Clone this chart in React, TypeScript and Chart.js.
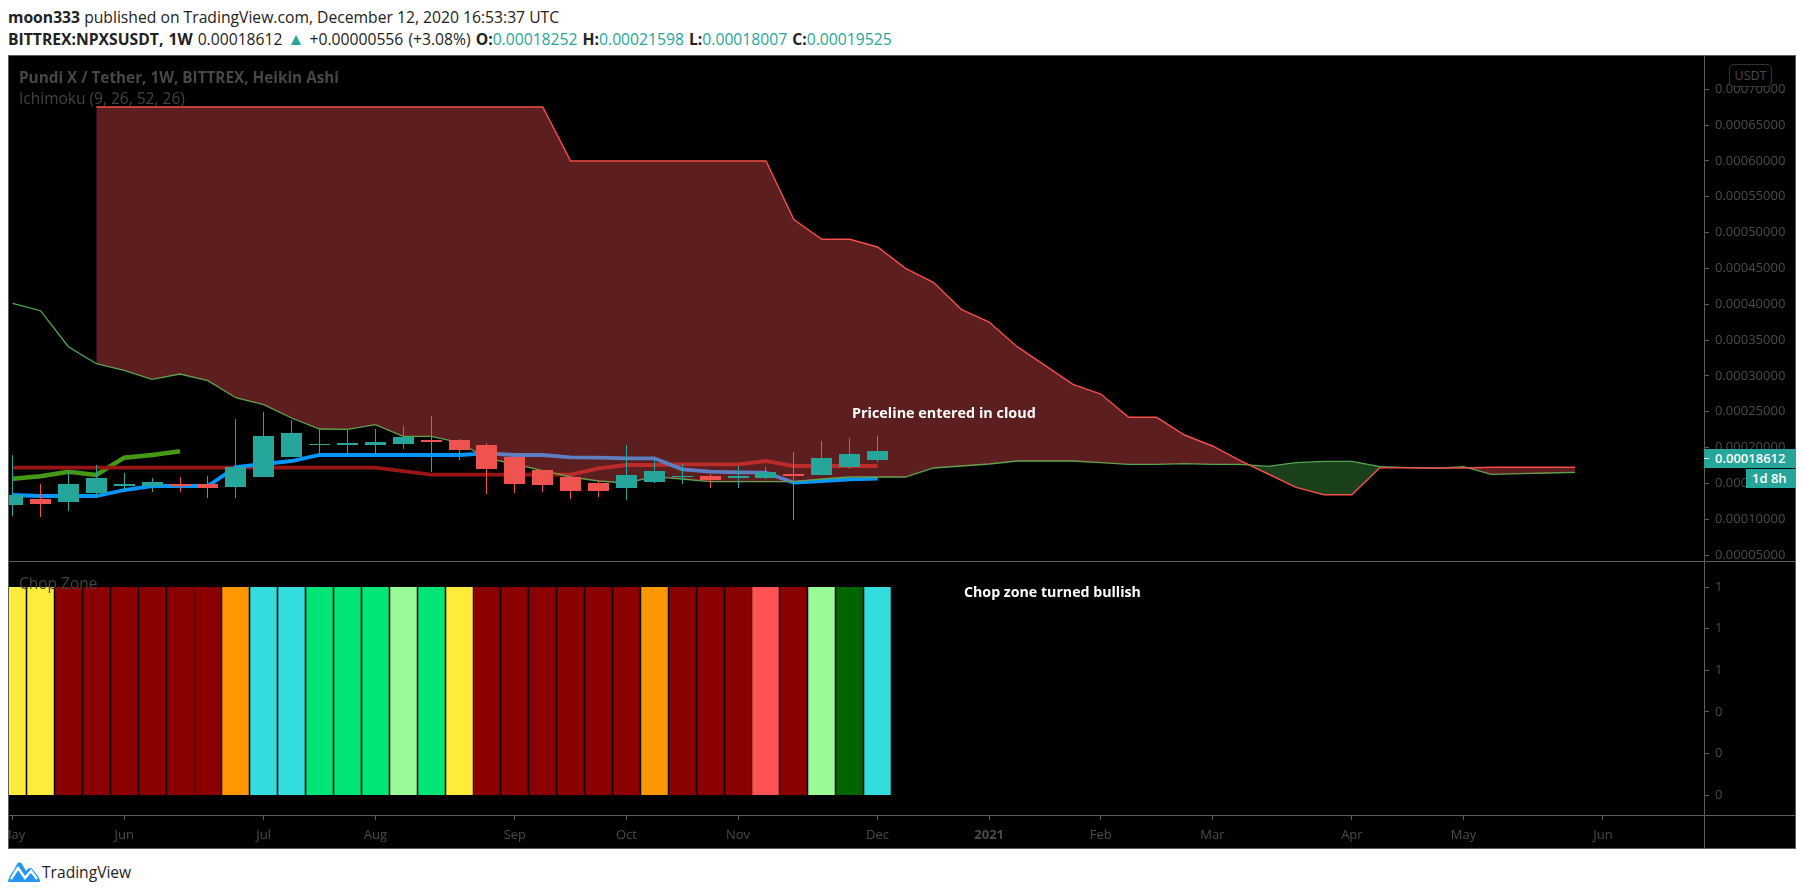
import React, { useEffect, useRef } from "react";
import { Chart, registerables } from "chart.js";

Chart.register(...registerables);

// Heikin Ashi weekly candles
const candleOpen = [0.00011977,0.00012814,0.00012396,0.00013652,0.00014628,0.00014628,0.00014908,0.00014908,0.00014489,0.00015885,0.00018676,0.0002035,0.0002035,0.0002035,0.0002049,0.00021048,0.00021048,0.0002035,0.00018676,0.00016861,0.00015885,0.00015047,0.00014349,0.00015187,0.00015885,0.00016024,0.00015745,0.00015745,0.00016303,0.00016164,0.0001728,0.00018252];
const candleClose = [0.00013373,0.00012117,0.00014908,0.00015745,0.00014908,0.00015187,0.00014628,0.00014349,0.0001728,0.00021606,0.00022025,0.0002049,0.00020629,0.00020769,0.00021467,0.00020769,0.00019652,0.00017001,0.00014908,0.00014768,0.00013931,0.00013931,0.00016164,0.00016722,0.00016024,0.00015466,0.00016024,0.00016582,0.00016024,0.00018536,0.00019094,0.00019525];
const candleHigh = [0.00018955,0.00014908,0.00016768,0.00017559,0.00016443,0.00015745,0.00015885,0.00016024,0.00023979,0.00024955,0.00023839,0.00022583,0.00022583,0.00022583,0.00023002,0.00024397,0.00021187,0.00020629,0.00018676,0.00016861,0.00015885,0.00015466,0.0002035,0.00018257,0.00017699,0.00016303,0.0001742,0.0001728,0.00019373,0.00020908,0.00021327,0.00021598];
const candleLow = [0.00010442,0.00010302,0.0001114,0.00013,0.0001407,0.00013791,0.00013791,0.00012953,0.00012953,0.00015885,0.00018676,0.00019094,0.00018815,0.00018815,0.00019792,0.00016582,0.00018257,0.00013512,0.00013652,0.00013791,0.00012814,0.00013094,0.00012675,0.00015047,0.00014908,0.00014349,0.00014349,0.00015605,0.00009884,0.00016164,0.00017001,0.00018007];

// Ichimoku lines
const conversionLine = [0.00013373,0.00013233,0.00013233,0.00013233,0.0001407,0.00014628,0.00014628,0.00014628,0.0001728,0.00017699,0.00018117,0.00018955,0.00018955,0.00018955,0.00018955,0.00018955,0.00018955,0.00019187,0.00018955,0.00018955,0.00018629,0.00018582,0.0001849,0.0001849,0.00016954,0.00016629,0.00016536,0.00016489,0.00015094,0.00015326,0.00015559,0.00015652];
const baseLine = [0.00017183,0.00017183,0.00017183,0.00017183,0.00017183,0.00017183,0.00017183,0.00017183,0.00017183,0.00017183,0.00017183,0.00017183,0.00017183,0.00017183,0.00016694,0.00016205,0.00016205,0.00016205,0.00016205,0.00016205,0.00016205,0.00017099,0.00017559,0.00017559,0.00017657,0.00017657,0.00017657,0.00018117,0.0001742,0.0001742,0.0001742,0.0001742];
const laggingSpan = [0.00015652,0.00015978,0.00016629,0.00016164,0.00018582,0.00018955,0.00019466];
const leadingSpanA = [0.00040125,0.00039092,0.00034068,0.00031696,0.00030775,0.00029519,0.00030258,0.00029323,0.00026951,0.00025974,0.00024118,0.00022583,0.00022541,0.00023183,0.00021564,0.00021564,0.00020727,0.00018494,0.00017699,0.00016764,0.00015885,0.00015326,0.00015047,0.00015926,0.00015606,0.00015229,0.00015229,0.00015229,0.00015229,0.00015606,0.00015885,0.00015885,0.00015885,0.00017141,0.0001742,0.00017699,0.00018117,0.00018117,0.00018117,0.0001788,0.00017657,0.00017657,0.0001774,0.00017657,0.00017657,0.00017377,0.0001788,0.00018075,0.00018075,0.00017322,0.00017183,0.00017099,0.00017322,0.00016261,0.00016345,0.00016443,0.00016541];
const leadingSpanB = [null,null,null,0.00067518,0.00067518,0.00067518,0.00067518,0.00067518,0.00067518,0.00067518,0.00067518,0.00067518,0.00067518,0.00067518,0.00067518,0.00067518,0.00067518,0.00067518,0.00067518,0.00067518,0.00059982,0.00059982,0.00059982,0.00059982,0.00059982,0.00059982,0.00059982,0.00059982,0.00051819,0.00049056,0.00049056,0.00047981,0.00045009,0.00043055,0.00039287,0.00037515,0.00034068,0.00031472,0.00028821,0.00027467,0.00024216,0.00024216,0.00021746,0.00020211,0.00018159,0.00016303,0.00014447,0.00013415,0.00013415,0.00017183,0.00017183,0.00017141,0.00017141,0.00017238,0.00017238,0.00017238,0.00017238];

// Chop Zone
const chopZones = ["yellow","yellow","darkRed","darkRed","darkRed","darkRed","darkRed","darkRed","orange","cyan","cyan","lime","lime","lime","paleGreen","lime","yellow","darkRed","darkRed","darkRed","darkRed","darkRed","darkRed","orange","darkRed","darkRed","darkRed","red","darkRed","paleGreen","darkGreen","cyan"];
const chopValues = chopZones.map(() => 1);
const chopColors: Record<string, string> = { yellow: "#ffeb3b", darkRed: "#8b0000", orange: "#ff9800", cyan: "#34dddd", lime: "#00e676", paleGreen: "#98fb98", red: "#ff5252", darkGreen: "#006400" };

// Axes
const priceTicks = [0.00005,0.0001,0.00015,0.0002,0.00025,0.0003,0.00035,0.0004,0.00045,0.0005,0.00055,0.0006,0.00065,0.0007];
const chopTicks = [0,0.2,0.4,0.6,0.8,1];
const timeTickIndex = [0,4,9,13,18,22,26,31,35,39,43,48,52,57];
const timeTickLabels = ["May","Jun","Jul","Aug","Sep","Oct","Nov","Dec","2021","Feb","Mar","Apr","May","Jun"];

const FONT = "'Open Sans', sans-serif";
const UP = "#26a69a";
const DOWN = "#ef5350";
const AXIS = "#5e5e5e";
const DIM = "#4b4b4b";
const X_MIN = -0.165;
const X_MAX = 60.62;

const series = (values: (number | null)[]) => values.map((y, x) => ({ x, y }));

const snapBars = {
  id: "snapBars",
  afterDatasetUpdate(chart: any, args: any) {
    const meta = args.meta;
    if (meta.type !== "bar") return;
    meta.data.forEach((el: any) => {
      el.x = Math.floor(el.x) + 0.5;
      const top = Math.round(el.y);
      let base = Math.round(el.base);
      if (base === top) base = top + 1;
      el.y = top;
      el.base = base;
      el.height = Math.abs(base - top);
    });
  },
};

const hideScalePadding = (scale: any) => {
  scale.paddingLeft = 0;
  scale.paddingRight = 0;
  scale.paddingTop = 0;
  scale.paddingBottom = 0;
};

export default function App() {
  const priceRef = useRef<HTMLCanvasElement>(null);
  const chopRef = useRef<HTMLCanvasElement>(null);

  useEffect(() => {
    const colors = candleOpen.map((o, i) => (candleClose[i] >= o ? UP : DOWN));
    const lineBase = { type: "line", pointRadius: 0, tension: 0, fill: false };
    const price = new Chart(priceRef.current!, {
      type: "bar",
      plugins: [snapBars],
      data: {
        datasets: [
          { ...lineBase, data: series(laggingSpan), borderColor: "#459915", borderWidth: 4.5, order: 12 },
          { ...lineBase, data: series(baseLine), borderColor: "#991515", borderWidth: 3.8, order: 11 },
          { ...lineBase, data: series(conversionLine), borderColor: "#0496ff", borderWidth: 3.8, order: 10 },
          { ...lineBase, data: series(leadingSpanA), borderColor: "#4caf50", borderWidth: 1.3, order: 9 },
          { ...lineBase, data: series(leadingSpanB), borderColor: "#f44f4a", borderWidth: 1.4, order: 8,
            fill: { target: 3, above: "rgba(255,82,82,0.36)", below: "rgba(67,160,71,0.4)" } },
          { type: "bar", data: candleHigh.map((h, i) => ({ x: i, y: [candleLow[i], h] })), backgroundColor: colors, barThickness: 1, grouped: false, inflateAmount: 0, borderWidth: 0, order: 2 },
          { type: "bar", data: candleOpen.map((o, i) => ({ x: i, y: [o, candleClose[i]] })), backgroundColor: colors, barThickness: 21, grouped: false, inflateAmount: 0, borderWidth: 0, order: 1 },
        ],
      } as any,
      options: {
        responsive: false,
        animation: false,
        devicePixelRatio: 1,
        events: [],
        layout: { padding: 0 },
        plugins: { legend: { display: false }, tooltip: { enabled: false } },
        scales: {
          x: { type: "linear", min: X_MIN, max: X_MAX, offset: false, display: false, grid: { display: false, offset: false } },
          y: {
            position: "right",
            min: 0.00004163,
            max: 0.00074635,
            border: { display: false },
            grid: { drawOnChartArea: false, drawTicks: true, tickLength: 5, tickColor: AXIS },
            afterBuildTicks: (s: any) => { s.ticks = priceTicks.map((value) => ({ value })); },
            afterFit: (s: any) => { s.width = 92; hideScalePadding(s); },
            ticks: { autoSkip: false, color: DIM, padding: 6, font: { family: FONT, size: 13 }, callback: (v: any) => Number(v).toFixed(8) },
          },
        },
      } as any,
    });

    const chop = new Chart(chopRef.current!, {
      type: "bar",
      plugins: [snapBars],
      data: {
        datasets: [
          { data: series(chopValues), backgroundColor: chopZones.map((z) => chopColors[z]), barThickness: 26.5, inflateAmount: 0, borderWidth: 0 },
        ],
      } as any,
      options: {
        responsive: false,
        animation: false,
        devicePixelRatio: 1,
        events: [],
        layout: { padding: 0 },
        plugins: { legend: { display: false }, tooltip: { enabled: false } },
        scales: {
          x: {
            type: "linear",
            min: X_MIN,
            max: X_MAX,
            offset: false,
            border: { display: false },
            grid: { offset: false, drawOnChartArea: false, drawTicks: true, tickLength: 5, tickColor: AXIS },
            afterBuildTicks: (s: any) => { s.ticks = timeTickIndex.map((value) => ({ value })); },
            afterFit: (s: any) => { s.height = 33; hideScalePadding(s); },
            ticks: {
              autoSkip: false,
              maxRotation: 0,
              color: DIM,
              padding: 7,
              font: (ctx: any) => ({ family: FONT, size: 13, weight: ctx.index === 8 ? "bold" : "normal" }),
              callback: (_v: any, i: number) => timeTickLabels[i],
            },
          },
          y: {
            position: "right",
            min: -0.096,
            max: 1.125,
            border: { display: false },
            grid: { drawOnChartArea: false, drawTicks: true, tickLength: 5, tickColor: AXIS },
            afterBuildTicks: (s: any) => { s.ticks = chopTicks.map((value) => ({ value })); },
            afterFit: (s: any) => { s.width = 92; hideScalePadding(s); },
            ticks: { autoSkip: false, color: DIM, padding: 6, font: { family: FONT, size: 13 }, callback: (v: any) => String(Math.round(Number(v))) },
          },
        },
      } as any,
    });

    return () => {
      price.destroy();
      chop.destroy();
    };
  }, []);

  const at = (left: number, top: number, extra: React.CSSProperties = {}): React.CSSProperties => ({
    position: "absolute", left, top, whiteSpace: "nowrap", fontFamily: FONT, ...extra,
  });
  const teal = { color: UP };

  return (
    <div style={{ position: "absolute", left: 0, top: 0, width: 1805, height: 895, overflow: "hidden", background: "#fff" }}>
      <div style={at(8, 6, { fontSize: 15.7, lineHeight: "22px", color: "#222" })}>
        <b>moon333</b> published on TradingView.com, December 12, 2020 16:53:37 UTC
      </div>
      <div style={at(8, 28, { fontSize: 15.7, lineHeight: "22px", color: "#222", wordSpacing: 1 })}>
        <b>BITTREX:NPXSUSDT, 1W</b> 0.00018612 <span style={{ ...teal, fontSize: 17 }}>▲</span> +0.00000556 (+3.08%) <b>O:</b><span style={teal}>0.00018252</span> <b>H:</b><span style={teal}>0.00021598</span> <b>L:</b><span style={teal}>0.00018007</span> <b>C:</b><span style={teal}>0.00019525</span>
      </div>

      <div style={{ position: "absolute", left: 8, top: 55, width: 1788, height: 794, background: "#000" }} />
      <canvas ref={priceRef} width={1788} height={505} style={{ position: "absolute", left: 8, top: 56, display: "block" }} />
      <canvas ref={chopRef} width={1788} height={287} style={{ position: "absolute", left: 8, top: 561, display: "block" }} />

      <div style={{ position: "absolute", left: 8, top: 55, width: 1788, height: 794, border: `1px solid ${AXIS}`, boxSizing: "border-box" }} />
      <div style={{ position: "absolute", left: 8, top: 561, width: 1788, height: 1, background: AXIS }} />
      <div style={{ position: "absolute", left: 8, top: 815, width: 1788, height: 1, background: AXIS }} />
      <div style={{ position: "absolute", left: 1704, top: 55, width: 1, height: 794, background: AXIS }} />

      <div style={at(19, 67, { fontSize: 15.3, lineHeight: "20px", fontWeight: 700, color: "#474747" })}>Pundi X / Tether, 1W, BITTREX, Heikin Ashi</div>
      <div style={at(19, 88, { fontSize: 15.5, lineHeight: "20px", color: "#424242" })}>Ichimoku (9, 26, 52, 26)</div>
      <div style={at(19, 573, { fontSize: 15.5, lineHeight: "20px", color: "#424242" })}>Chop Zone</div>

      <div style={at(852, 403, { fontSize: 14.4, lineHeight: "20px", fontWeight: 700, color: "#fff" })}>Priceline entered in cloud</div>
      <div style={at(964, 582, { fontSize: 14.2, lineHeight: "20px", fontWeight: 700, color: "#fff" })}>Chop zone turned bullish</div>

      <div style={at(1729, 64, { width: 43, height: 23, boxSizing: "border-box", border: "1px solid #333", borderRadius: 5, background: "#000", color: DIM, fontSize: 12.5, lineHeight: "21px", textAlign: "center" })}>USDT</div>
      <div style={at(1704, 449, { width: 92, height: 19, background: UP, color: "#fff", fontSize: 13, lineHeight: "19px", fontWeight: 600, paddingLeft: 11, boxSizing: "border-box" })}>0.00018612</div>
      <div style={{ position: "absolute", left: 1704, top: 458, width: 5, height: 1, background: "#fff" }} />
      <div style={at(1746, 469, { width: 50, height: 19, background: UP, color: "#fff", fontSize: 13, lineHeight: "19px", fontWeight: 600, paddingLeft: 6, boxSizing: "border-box" })}>1d 8h</div>

      <svg width="32" height="20" viewBox="0 0 32 20" style={{ position: "absolute", left: 8, top: 862 }}>
        <path d="M0 20 C1 14 4 11 6 8 L9 2 C10 0 13 0 14 2 L18 9 L20 7 C22 5 24 6 25 8 L29 13 C31 15 32 18 32 20 Z" fill="#2196f3" />
        <path d="M3 17 L10 6 L17 16 L23 9 L29 17" fill="none" stroke="#fff" strokeWidth="2.4" />
      </svg>
      <div style={at(42, 861, { fontSize: 15.6, lineHeight: "22px", color: "#222" })}>TradingView</div>
    </div>
  );
}
